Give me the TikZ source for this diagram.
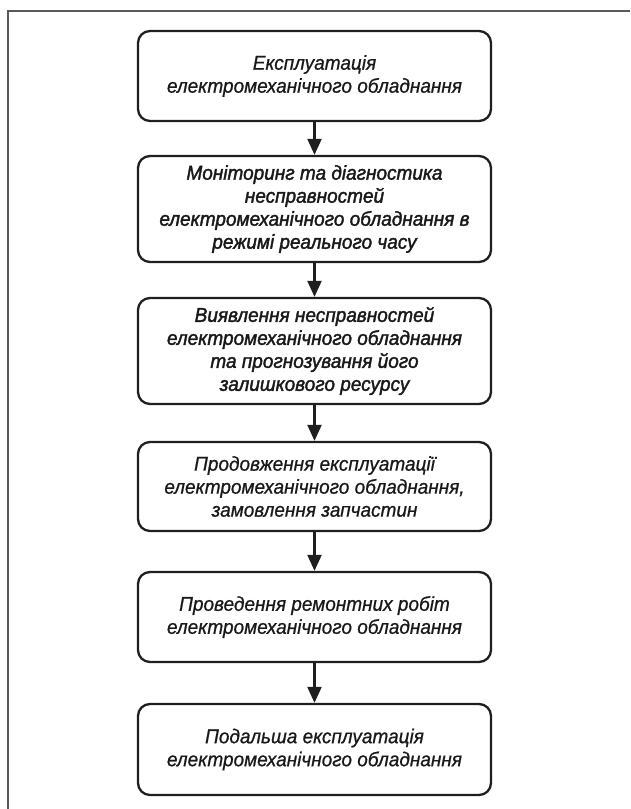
\documentclass[tikz,border=0pt]{standalone}
\usepackage{fontspec}
\setmainfont{Liberation Sans}[FakeStretch=0.95]
\newfontfamily\heavyfont{Liberation Sans}[FakeStretch=0.95,FakeBold=1.8]
\newfontfamily\midfont{Liberation Sans}[FakeStretch=0.95,FakeBold=0.8]
\usetikzlibrary{arrows.meta}
\begin{document}
\begin{tikzpicture}[x=1pt,y=-1pt,
  box/.style={draw=black!88, line width=2.3pt, rounded corners=12pt, rectangle,
    minimum width=353pt, align=center, inner sep=0pt,
    font=\midfont\fontsize{20}{23}\selectfont\itshape, text=black!90},
  boldbox/.style={box, font=\heavyfont\fontsize{20}{23}\selectfont\itshape},
  conn/.style={line width=2.2pt, draw=black!88, -{Triangle[length=16pt,width=14pt]}}]
\useasboundingbox (0,0) rectangle (630,809);
\draw[line width=2pt, draw=black!65] (8,809) -- (8,11) -- (630,11);
\node[box, minimum height=90pt] (b1) at (314.5,76) {Експлуатація\\електромеханічного обладнання};
\node[boldbox, minimum height=106pt] (b2) at (314.5,209) {Моніторинг та діагностика\\несправностей\\електромеханічного обладнання в\\режимі реального часу};
\node[boldbox, minimum height=106pt] (b3) at (314.5,351) {Виявлення несправностей\\електромеханічного обладнання\\та прогнозування його\\залишкового ресурсу};
\node[box, minimum height=89pt] (b4) at (314.5,486.5) {Продовження експлуатації\\електромеханічного обладнання,\\замовлення запчастин};
\node[box, minimum height=90pt] (b5) at (314.5,617) {Проведення ремонтних робіт\\електромеханічного обладнання};
\node[box, minimum height=91pt] (b6) at (314.5,749.5) {Подальша експлуатація\\електромеханічного обладнання};
\draw[conn] (b1) -- (b2);
\draw[conn] (b2) -- (b3);
\draw[conn] (b3) -- (b4);
\draw[conn] (b4) -- (b5);
\draw[conn] (b5) -- (b6);
\end{tikzpicture}
\end{document}
